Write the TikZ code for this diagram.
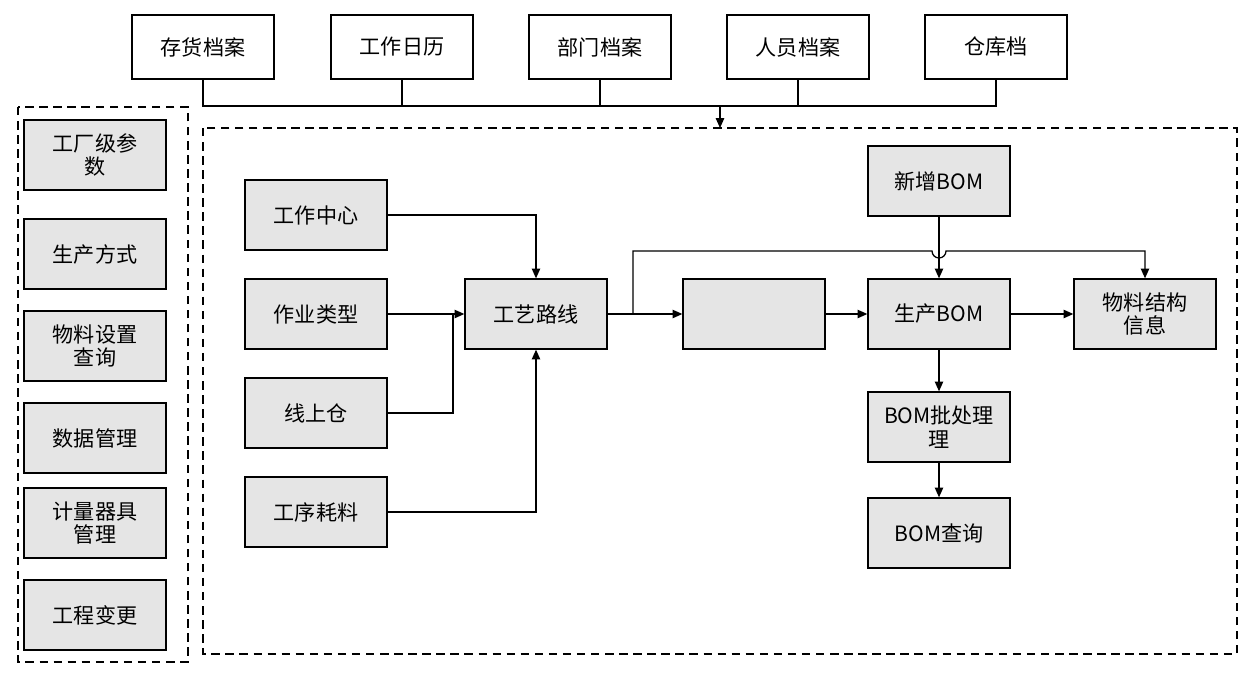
\documentclass[tikz,border=0pt]{standalone}
\usepackage{fontspec}
\setmainfont{Noto Sans CJK SC}
\usetikzlibrary{arrows.meta}
\begin{document}
\begin{tikzpicture}[x=0.025cm,y=-0.025cm,
 box/.style={draw,line width=0.9pt,minimum width=3.55cm,minimum height=1.75cm,align=center,font=\fontsize{15}{17}\selectfont,inner sep=1pt},
 g/.style={box,fill=black!10},
 w/.style={box,fill=white,minimum height=1.6cm},
 ar/.style={line width=0.9pt,-{Triangle[length=7pt,width=6pt]}},
 ln/.style={line width=0.9pt},
 dbox/.style={draw,dashed,line width=0.9pt,dash pattern=on 6pt off 4pt}]
\useasboundingbox (0,0) rectangle (1251,677);
\node[w] (a1) at (203,47) {存货档案};
\node[w] (a2) at (402,47) {工作日历};
\node[w] (a3) at (600,47) {部门档案};
\node[w] (a4) at (798,47) {人员档案};
\node[w] (a5) at (996,47) {仓库档};
\draw[dbox] (18,107) rectangle (188,662);
\draw[dbox] (203,128) coordinate (bt) rectangle (1237,654);
\coordinate (btop) at (720,128);
\draw[ln] (a1.south) |- (a5.south |- 0,106) -- (a5.south);
\draw[ln] (a2.south) -- (a2.south |- 0,106);
\draw[ln] (a3.south) -- (a3.south |- 0,106);
\draw[ln] (a4.south) -- (a4.south |- 0,106);
\draw[ar] (720,106) -- (btop);
\foreach \n/\y/\t in {l1/155/{工厂级参\\数},l2/254/生产方式,l3/346/{物料设置\\查询},l4/438/数据管理,l5/523/{计量器具\\管理},l6/615/工程变更}
 \node[g] (\n) at (95,\y) {\t};
\node[g] (c1) at (316,215) {工作中心};
\node[g] (c2) at (316,314) {作业类型};
\node[g] (c3) at (316,413) {线上仓};
\node[g] (c4) at (316,512) {工序耗料};
\node[g] (r) at (536,314) {工艺路线};
\node[g] (bl) at (754,314) {};
\node[g] (p) at (939,314) {生产BOM};
\node[g] (m) at (1145,314) {物料结构\\信息};
\node[g] (n) at (939,181) {新增BOM};
\node[g] (b) at (939,427) {BOM批处理\\理};
\node[g] (q) at (939,533) {BOM查询};
\draw[ar] (c1.east) -| (r.north);
\draw[ar] (c2.east) -- (r.west);
\draw[ln] (c3.east) -| (453,314);
\draw[ar] (c4.east) -| (r.south);
\draw[ar] (r.east) -- (bl.west);
\draw[ar] (633,314) -- (633,251) -- (932,251) arc (180:0:7) -- (1145,251) -- (m.north);
\draw[ar] (n.south) -- (p.north);
\draw[ar] (bl.east) -- (p.west);
\draw[ar] (p.east) -- (m.west);
\draw[ar] (p.south) -- (b.north);
\draw[ar] (b.south) -- (q.north);
\end{tikzpicture}
\end{document}
